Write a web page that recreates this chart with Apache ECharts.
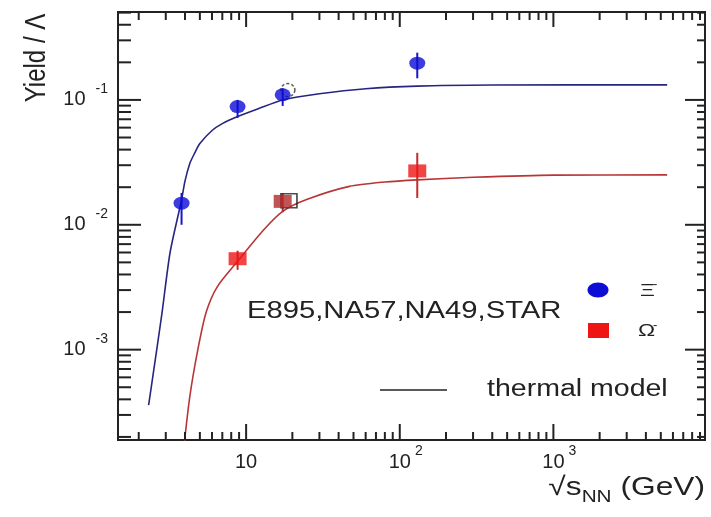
<!DOCTYPE html>
<html>
<head>
<meta charset="utf-8">
<script src="https://cdn.jsdelivr.net/npm/echarts@6/dist/echarts.min.js"></script>
<style>
  html, body { margin: 0; padding: 0; background: #ffffff; }
  #chart { width: 711px; height: 517px; }
</style>
</head>
<body>
<div id="chart"></div>
<script>
// ---- Measured multi-strange baryon yields relative to Lambda ----
const xiEnergy = [3.8, 8.8, 17.3, 130];
const xiRatio  = [0.0149, 0.0884, 0.110, 0.197];
const xiLow    = [0.0100, 0.0718, 0.0895, 0.149];
const xiHigh   = [0.0180, 0.1000, 0.124, 0.239];

const omegaEnergy = [8.8, 17.3, 130];
const omegaRatio  = [0.00535, 0.0154, 0.027];
const omegaLow    = [0.00436, 0.0126, 0.0164];
const omegaHigh   = [0.0062, 0.0179, 0.0377];

// NA49 open symbols (drawn slightly to the right of 17.3 GeV)
const na49XiEnergy    = [18.7];
const na49XiRatio     = [0.120];
const na49OmegaEnergy = [19.0];
const na49OmegaRatio  = [0.0156];

// ---- Thermal model curves ----
const thermalXiEnergy = [2.32, 2.62, 2.84, 3.2, 3.8, 4.0, 4.3, 4.6, 5.0, 6.0, 7.0, 8.8, 12, 17.3, 30, 60, 130, 400, 5500];
const thermalXiRatio  = [3.6e-4, 1.0e-3, 2.0e-3, 6.0e-3, 0.0158, 0.0224, 0.031, 0.037, 0.0447, 0.0569, 0.0646, 0.0736, 0.0851, 0.100, 0.112, 0.123, 0.129, 0.1315, 0.132];

const thermalOmegaEnergy = [3.9, 4.3, 4.85, 5.5, 6.5, 8.8, 12.9, 17.3, 25, 47, 80, 130, 300, 1000, 5500];
const thermalOmegaRatio  = [1.5e-4, 4.2e-4, 1.0e-3, 2.0e-3, 3.2e-3, 5.1e-3, 9.0e-3, 0.0128, 0.0160, 0.0203, 0.0220, 0.0229, 0.0240, 0.0250, 0.0251];

// ---- Axis ranges and ticks ----
const X_MIN = 1.466, X_MAX = 9700;
const Y_MIN = 1.89e-4, Y_MAX = 0.506;

const xMajorTicks = [10, 100, 1000];
const xTickExponents = ['', '2', '3'];
const xMinorTicks = [2, 3, 4, 5, 6, 7, 8, 9,
                     20, 30, 40, 50, 60, 70, 80, 90,
                     200, 300, 400, 500, 600, 700, 800, 900,
                     2000, 3000, 4000, 5000, 6000, 7000, 8000, 9000];

const yMajorTicks = [0.001, 0.01, 0.1];
const yTickExponents = ['-3', '-2', '-1'];
const yMinorTicks = [2e-4, 3e-4, 4e-4, 5e-4, 6e-4, 7e-4, 8e-4, 9e-4,
                     2e-3, 3e-3, 4e-3, 5e-3, 6e-3, 7e-3, 8e-3, 9e-3,
                     0.02, 0.03, 0.04, 0.05, 0.06, 0.07, 0.08, 0.09,
                     0.2, 0.3, 0.4, 0.5];

// ---- Styling ----
const FONT = 'Liberation Sans';
const INK = '#222222';
const XI_COLOR = '#0d0dd6';
const XI_BAR = '#1818c8';
const XI_CURVE = '#262680';
const OMEGA_COLOR = '#ee1515';
const OMEGA_DARK = '#b22a2a';
const OMEGA_BAR = '#c42a2a';
const OMEGA_CURVE = '#b83535';

function zip(a, b) { return a.map((v, i) => [v, b[i]]); }
function findIndex(list, v) {
  for (let i = 0; i < list.length; i++) {
    if (Math.abs(Math.log10(v) - Math.log10(list[i])) < 1e-6) return i;
  }
  return -1;
}

function xLabel(v) {
  const i = findIndex(xMajorTicks, v);
  if (i < 0) return '';
  const e = xTickExponents[i];
  if (!e) return '{b|10}';
  return '{g|' + e + '}{b|10}{s|' + e + '}';
}
function yLabel(v) {
  const i = findIndex(yMajorTicks, v);
  if (i < 0) return '';
  return '{b|10}{s|' + yTickExponents[i] + '}';
}

const baseRich = {
  b: { fontFamily: FONT, fontSize: 20, color: INK, padding: [8, 0, 8, 0], verticalAlign: 'bottom' },
  s: { fontFamily: FONT, fontSize: 14, color: INK, verticalAlign: 'top', padding: [0, 0, 0, 4] },
  g: { fontFamily: FONT, fontSize: 14, color: 'rgba(0,0,0,0)', verticalAlign: 'top', padding: [0, 4, 0, 0] }
};
const yRich = {
  b: baseRich.b,
  s: { fontFamily: FONT, fontSize: 14, color: INK, verticalAlign: 'top', padding: [0, 0, 0, 10] }
};

// Tick marks on all four frame sides, placed through the axis scales
function xTickRender(params, api) {
  const cs = params.coordSys;
  const px = api.coord([api.value(0), 0.01])[0];
  const major = api.value(2) === 1;
  const bottom = cs.y + cs.height;
  const bLen = major ? 16 : 8;
  const tLen = major ? 15 : 8;
  return {
    type: 'group',
    children: [
      { type: 'line', shape: { x1: px, y1: bottom, x2: px, y2: bottom - bLen }, style: { stroke: INK, lineWidth: 2 } },
      { type: 'line', shape: { x1: px, y1: cs.y, x2: px, y2: cs.y + tLen }, style: { stroke: INK, lineWidth: 2 } }
    ]
  };
}
function yTickRender(params, api) {
  const cs = params.coordSys;
  const py = api.coord([10, api.value(1)])[1];
  const major = api.value(2) === 1;
  const right = cs.x + cs.width;
  const lLen = major ? 23 : 13;
  const rLen = major ? 20 : 8;
  return {
    type: 'group',
    children: [
      { type: 'line', shape: { x1: cs.x, y1: py, x2: cs.x + lLen, y2: py }, style: { stroke: INK, lineWidth: 2 } },
      { type: 'line', shape: { x1: right, y1: py, x2: right - rLen, y2: py }, style: { stroke: INK, lineWidth: 2 } }
    ]
  };
}
function errorBarRender(color) {
  return function (params, api) {
    const lo = api.coord([api.value(0), api.value(1)]);
    const hi = api.coord([api.value(0), api.value(2)]);
    return {
      type: 'line',
      shape: { x1: lo[0], y1: lo[1], x2: hi[0], y2: hi[1] },
      style: { stroke: color, lineWidth: 2 }
    };
  };
}

const xTickData = xMajorTicks.map(v => [v, 0.01, 1]).concat(xMinorTicks.map(v => [v, 0.01, 0]));
const yTickData = yMajorTicks.map(v => [10, v, 1]).concat(yMinorTicks.map(v => [10, v, 0]));

const option = {
  animation: false,
  backgroundColor: '#ffffff',
  grid: {
    left: 118, right: 6, top: 12, bottom: 77,
    show: true, borderColor: INK, borderWidth: 2, backgroundColor: 'transparent'
  },
  xAxis: {
    type: 'log', logBase: 10, min: X_MIN, max: X_MAX,
    axisLine: { show: false },
    axisTick: { show: false },
    splitLine: { show: false },
    axisLabel: { margin: 4, formatter: xLabel, rich: baseRich }
  },
  yAxis: {
    type: 'log', logBase: 10, min: Y_MIN, max: Y_MAX,
    axisLine: { show: false },
    axisTick: { show: false },
    splitLine: { show: false },
    axisLabel: { margin: 10, formatter: yLabel, rich: yRich }
  },
  series: [
    { type: 'custom', name: 'xticks', renderItem: xTickRender, data: xTickData, encode: { x: 0, y: 1 }, silent: true, z: 5 },
    { type: 'custom', name: 'yticks', renderItem: yTickRender, data: yTickData, encode: { x: 0, y: 1 }, silent: true, z: 5 },
    {
      type: 'line', name: 'thermal Xi', data: zip(thermalXiEnergy, thermalXiRatio),
      showSymbol: false, smooth: 0.25, clip: true,
      lineStyle: { color: XI_CURVE, width: 1.6 }, z: 2
    },
    {
      type: 'line', name: 'thermal Omega', data: zip(thermalOmegaEnergy, thermalOmegaRatio),
      showSymbol: false, smooth: 0.25, clip: true,
      lineStyle: { color: OMEGA_CURVE, width: 1.6 }, z: 2
    },
    {
      type: 'custom', name: 'Xi errors', renderItem: errorBarRender(XI_BAR),
      data: xiEnergy.map((x, i) => [x, xiLow[i], xiHigh[i]]), encode: { x: 0, y: [1, 2] }, z: 3
    },
    {
      type: 'custom', name: 'Omega errors', renderItem: errorBarRender(OMEGA_BAR),
      data: omegaEnergy.map((x, i) => [x, omegaLow[i], omegaHigh[i]]), encode: { x: 0, y: [1, 2] }, z: 3
    },
    {
      type: 'scatter', name: 'NA49 Xi', data: zip(na49XiEnergy, na49XiRatio),
      symbol: 'circle', symbolSize: [14, 13],
      itemStyle: { color: 'rgba(255,255,255,0)', borderColor: '#333333', borderWidth: 1.5, borderType: [3, 2] }, z: 3
    },
    {
      type: 'scatter', name: 'NA49 Omega', data: zip(na49OmegaEnergy, na49OmegaRatio),
      symbol: 'rect', symbolSize: [16, 14],
      itemStyle: { color: 'rgba(255,255,255,0)', borderColor: '#222222', borderWidth: 1.6 }, z: 3
    },
    {
      type: 'scatter', name: 'Xi', data: zip(xiEnergy, xiRatio),
      symbol: 'circle', symbolSize: [16, 13],
      itemStyle: { color: XI_COLOR }, z: 4
    },
    {
      type: 'scatter', name: 'Omega', data: zip(omegaEnergy, omegaRatio),
      symbol: 'rect', symbolSize: [18, 13],
      itemStyle: { color: function (p) { return p.dataIndex === 1 ? OMEGA_DARK : OMEGA_COLOR; } }, z: 4
    }
  ],
  graphic: [
    // axis titles
    {
      type: 'text', x: 37, y: 58, rotation: Math.PI / 2, scaleY: 1.2,
      style: { text: 'Yield / Λ', fontFamily: FONT, fontSize: 24, fill: INK, align: 'center', verticalAlign: 'middle' }
    },
    {
      type: 'text', x: 705, y: 490, scaleX: 1.22,
      style: {
        text: '{r|√s}{sub|NN}{r| (GeV)}',
        align: 'right', verticalAlign: 'middle',
        rich: {
          r: { fontFamily: FONT, fontSize: 26, fill: INK, verticalAlign: 'top' },
          sub: { fontFamily: FONT, fontSize: 17, fill: INK, verticalAlign: 'top', padding: [14, 0, 0, 0] }
        }
      }
    },
    // legend
    { type: 'ellipse', shape: { cx: 598, cy: 290, rx: 10.5, ry: 7.5 }, style: { fill: XI_COLOR } },
    { type: 'rect', shape: { x: 588, y: 323, width: 21, height: 15 }, style: { fill: OMEGA_COLOR } },
    { type: 'text', x: 640, y: 291, scaleX: 1.35, style: { text: 'Ξ', fontFamily: FONT, fontSize: 17, fill: INK, align: 'left', verticalAlign: 'middle' } },
    { type: 'text', x: 653, y: 284, style: { text: '-', fontFamily: FONT, fontSize: 13, fill: INK, align: 'left', verticalAlign: 'middle' } },
    { type: 'text', x: 638, y: 331, scaleX: 1.35, style: { text: 'Ω', fontFamily: FONT, fontSize: 17, fill: INK, align: 'left', verticalAlign: 'middle' } },
    { type: 'text', x: 653, y: 325, style: { text: '-', fontFamily: FONT, fontSize: 13, fill: INK, align: 'left', verticalAlign: 'middle' } },
    {
      type: 'text', x: 247, y: 312, scaleX: 1.27,
      style: { text: 'E895,NA57,NA49,STAR', fontFamily: FONT, fontSize: 23, fill: INK, align: 'left', verticalAlign: 'middle' }
    },
    { type: 'line', shape: { x1: 380, y1: 390, x2: 447, y2: 390 }, style: { stroke: INK, lineWidth: 1.5 } },
    {
      type: 'text', x: 487, y: 390, scaleX: 1.24,
      style: { text: 'thermal model', fontFamily: FONT, fontSize: 23, fill: INK, align: 'left', verticalAlign: 'middle' }
    }
  ]
};

const chart = echarts.init(document.getElementById('chart'));
chart.setOption(option);
</script>
</body>
</html>
